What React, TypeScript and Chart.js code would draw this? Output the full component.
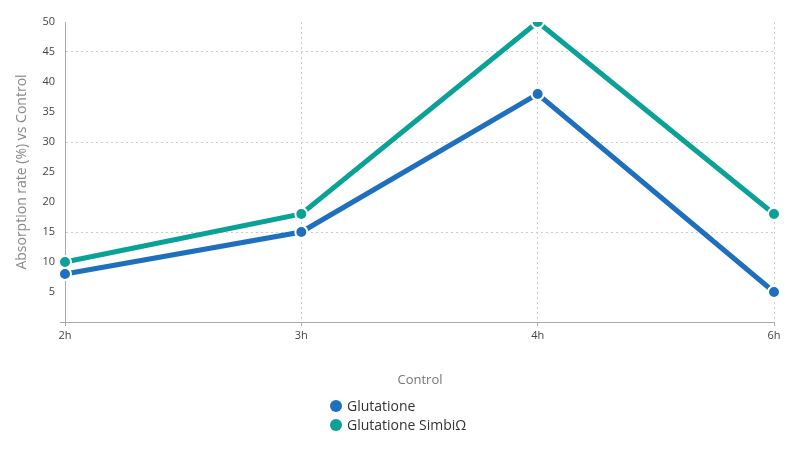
import React, { useEffect, useRef } from 'react'
import { Chart, registerables } from 'chart.js'

Chart.register(...registerables)

const hours = ['2h', '3h', '4h', '6h']
const glutatione = [8, 15, 38, 5]
const glutationeSimbi = [10, 18, 50, 18]

const BLUE = '#1f6fbf'
const TEAL = '#0aa196'
const FONT = '"Open Sans", "Noto Sans", sans-serif'

export default function App() {
  const canvasRef = useRef<HTMLCanvasElement>(null)
  const chartRef = useRef<Chart | null>(null)

  useEffect(() => {
    document.body.style.margin = '0'
    if (!canvasRef.current) return
    chartRef.current?.destroy()

    chartRef.current = new Chart(canvasRef.current, {
      type: 'line',
      data: {
        labels: hours,
        datasets: [
          {
            label: 'Glutatione',
            data: glutatione,
            borderColor: BLUE,
            backgroundColor: BLUE,
            borderWidth: 5,
            pointRadius: 6,
            pointBorderWidth: 2,
            pointBorderColor: '#fff',
            pointBackgroundColor: BLUE,
            tension: 0,
          },
          {
            label: 'Glutatione SimbiΩ',
            data: glutationeSimbi,
            borderColor: TEAL,
            backgroundColor: TEAL,
            borderWidth: 5,
            pointRadius: 6,
            pointBorderWidth: 2,
            pointBorderColor: '#fff',
            pointBackgroundColor: TEAL,
            tension: 0,
          },
        ],
      },
      options: {
        responsive: false,
        animation: false,
        layout: { padding: { top: 22, right: 26, bottom: 100, left: 0 } },
        plugins: {
          legend: { display: false },
          tooltip: { enabled: false },
        },
        scales: {
          x: {
            offset: false,
            border: { display: true, color: '#aaa', width: 1, dash: [2, 3] },
            grid: {
              color: ctx => (ctx.index === 0 ? 'rgba(0,0,0,0)' : '#ccc'),
              tickColor: '#aaa',
              tickLength: 4,
              tickBorderDash: [],
            },
            ticks: { color: '#444', font: { family: FONT, size: 11 }, padding: 3 },
            afterFit: s => {
              s.height = 28
            },
          },
          y: {
            min: 0,
            max: 50,
            border: { display: true, color: '#aaa', width: 1, dash: [2, 3] },
            grid: {
              color: ctx => {
                const v = ctx.tick?.value ?? 0
                return v > 0 && v % 15 === 0 ? '#ccc' : 'rgba(0,0,0,0)'
              },
              tickColor: ctx => (ctx.tick?.value === 0 ? '#aaa' : 'rgba(0,0,0,0)'),
              tickLength: 5,
              tickBorderDash: [],
            },
            ticks: {
              stepSize: 5,
              color: '#444',
              font: { family: FONT, size: 11 },
              padding: 5,
              callback: v => (v === 0 ? '' : String(v)),
            },
            title: {
              display: true,
              text: 'Absorption rate (%) vs Control',
              color: '#888',
              font: { family: FONT, size: 14 },
              padding: { top: 14, bottom: 0 },
            },
            afterFit: s => {
              s.width = 65
            },
          },
        },
      },
    })

    return () => {
      chartRef.current?.destroy()
      chartRef.current = null
    }
  }, [])

  const item = (color: string, text: string) => (
    <div style={{ display: 'flex', alignItems: 'center', height: 19 }}>
      <span
        style={{
          width: 12,
          height: 12,
          borderRadius: '50%',
          background: color,
          display: 'inline-block',
          marginRight: 5,
        }}
      />
      <span>{text}</span>
    </div>
  )

  return (
    <div style={{ position: 'relative', width: 800, height: 450, fontFamily: FONT }}>
      <canvas ref={canvasRef} width={800} height={450} />
      <div
        style={{
          position: 'absolute',
          left: 0,
          top: 370,
          width: 840,
          textAlign: 'center',
          color: '#777',
          fontSize: 13,
        }}
      >
        Control
      </div>
      <div style={{ position: 'absolute', left: 330, top: 396, color: '#333', fontSize: 14 }}>
        {item(BLUE, 'Glutatione')}
        {item(TEAL, 'Glutatione SimbiΩ')}
      </div>
    </div>
  )
}
